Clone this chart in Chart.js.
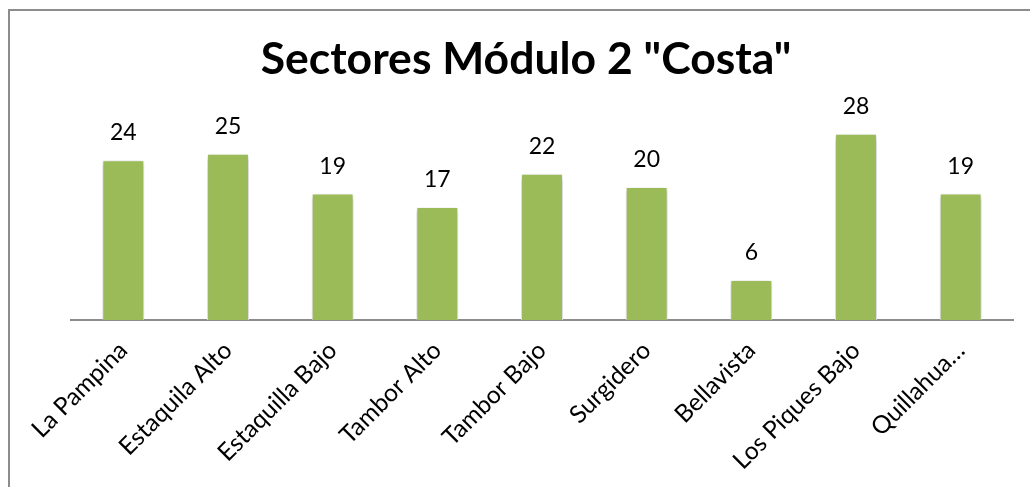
<!DOCTYPE html>
<html>
<head>
<meta charset="utf-8">
<script src="https://cdn.jsdelivr.net/npm/chart.js@4.4.0/dist/chart.umd.min.js"></script>
<style>
  html, body { margin: 0; padding: 0; background: #fff; overflow: hidden; }
  #frame {
    position: absolute; left: 8px; top: 9px; right: -60px; bottom: -60px;
    border-top: 2px solid #8c8c8c; border-left: 2px solid #8c8c8c;
  }
  #wrap { position: absolute; left: 0; top: 0; width: 1030px; height: 487px; }
</style>
</head>
<body>
<div id="frame"></div>
<div id="wrap"><canvas id="sectores" width="1030" height="487"></canvas></div>
<script>
// datos
const sectores = ["La Pampina", "Estaquila Alto", "Estaquilla Bajo", "Tambor Alto", "Tambor Bajo", "Surgidero", "Bellavista", "Los Piques Bajo", "Quillahua…"];
const cantidad = [24, 25, 19, 17, 22, 20, 6, 28, 19];
const titulo = 'Sectores Módulo 2 "Costa"';

// etiquetas sobre cada barra
const valueLabels = {
    id: 'valueLabels',
    afterDatasetsDraw(chart) {
        let ctx = chart.ctx;
        let meta = chart.getDatasetMeta(0);
        ctx.save();
        ctx.font = '23px Lato';
        ctx.fillStyle = '#000';
        ctx.textAlign = 'center';
        ctx.textBaseline = 'alphabetic';
        meta.data.forEach(function(bar, i) {
            ctx.fillText(cantidad[i], bar.x, bar.y - 20);
        });
        ctx.restore();
    }
};

// sombra suave de las barras
const barShadow = {
    id: 'barShadow',
    beforeDatasetsDraw(chart) {
        let ctx = chart.ctx;
        ctx.save();
        ctx.shadowColor = 'rgba(0,0,0,0.35)';
        ctx.shadowBlur = 5;
        ctx.shadowOffsetY = 2;
    },
    afterDatasetsDraw(chart) {
        chart.ctx.restore();
    }
};

const ctx = document.getElementById('sectores');
const myChart = new Chart(ctx, {
    type: 'bar',
    data: {
        labels: sectores,
        datasets: [{
            label: 'Sectores',
            data: cantidad,
            backgroundColor: '#9BBB59',
            borderColor: '#ffffff',
            borderWidth: 1,
            barPercentage: 0.4,
            categoryPercentage: 1
        }]
    },
    options: {
        responsive: false,
        animation: false,
        devicePixelRatio: 1,
        layout: { padding: { left: 39, right: 17, top: 0, bottom: 0 } },
        plugins: {
            legend: { display: false },
            tooltip: { enabled: false },
            title: {
                display: true,
                text: titulo,
                color: '#000',
                font: { family: 'Lato', size: 44.5, weight: 'bold' },
                padding: { top: 33, bottom: 34 }
            }
        },
        scales: {
            x: {
                grid: { display: false, drawTicks: false },
                border: { display: true, color: '#8c8c8c', width: 2 },
                ticks: {
                    color: '#000',
                    font: { family: 'Lato', size: 24.5 },
                    maxRotation: 45,
                    minRotation: 45,
                    padding: 16,
                    autoSkip: false
                },
                afterFit: function(scale) { scale.height = 167; }
            },
            y: {
                min: 0,
                max: 30,
                grid: { display: false, drawTicks: false },
                border: { display: false },
                ticks: { display: false },
                afterFit: function(scale) { scale.width = 32; }
            }
        }
    },
    plugins: [barShadow, valueLabels]
});
</script>
</body>
</html>
